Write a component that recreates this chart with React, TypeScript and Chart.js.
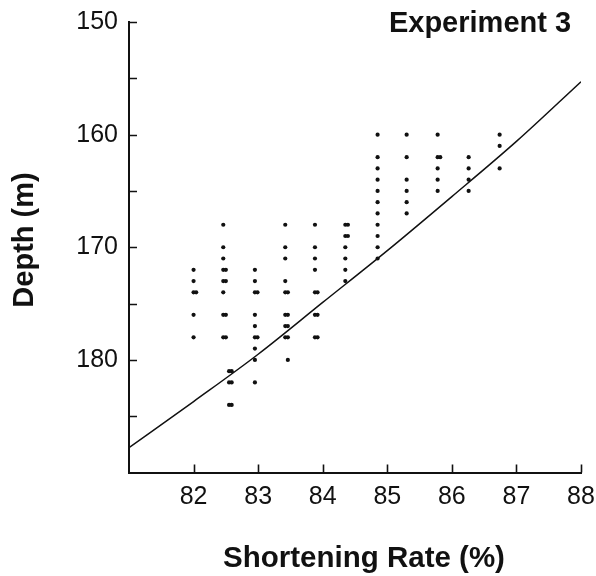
import React, { useEffect, useRef } from 'react';
import { Chart, registerables } from 'chart.js';

Chart.register(...registerables);

const FONT = '"Liberation Sans", Arial, Helvetica, sans-serif';

const chartTitle = 'Experiment 3';
const xAxisTitle = 'Shortening Rate (%)';
const yAxisTitle = 'Depth (m)';

// x positions of the point columns (shortening rate, %)
const columnRates = [82.0, 82.46, 82.55, 82.95, 83.42, 83.46, 83.88, 84.35, 84.85, 85.3, 85.78, 86.26, 86.74];
// depths (m) of the points in each column
const columnDepths = [
  [172, 173, 174, 176, 178],
  [168, 170, 171, 172, 173, 174, 176, 178],
  [181, 182, 184],
  [172, 173, 174, 176, 177, 178, 179, 180, 182],
  [168, 170, 171, 173, 174, 176, 177, 178],
  [180],
  [168, 170, 171, 172, 174, 176, 178],
  [168, 169, 170, 171, 172, 173],
  [160, 162, 163, 164, 165, 166, 167, 168, 169, 170, 171],
  [160, 162, 164, 165, 166, 167],
  [160, 162, 163, 164, 165],
  [162, 163, 164, 165],
  [160, 161, 163],
];
// overlapping (doubled) points, drawn just beside the first one
const doubledDepths = [
  [174],
  [172, 173, 176, 178],
  [181, 182, 184],
  [174, 178],
  [174, 176, 177, 178],
  [],
  [174, 176, 178],
  [168, 169],
  [],
  [],
  [162],
  [],
  [],
];
const doubledOffset = 0.04;

// fitted curve
const fitRates = [81, 82, 83, 84, 85, 86, 87, 88];
const fitDepths = [187.8, 183.7, 179.5, 174.9, 170.3, 165.5, 160.6, 155.3];

const xTickValues = [82, 83, 84, 85, 86, 87, 88];
const yTickValues = [150, 155, 160, 165, 170, 175, 180, 185];
const yTickLabels = [150, 160, 170, 180];

export default function App() {
  const ref = useRef<HTMLCanvasElement>(null);

  useEffect(() => {
    if (!ref.current) return;
    const points: { x: number; y: number }[] = [];
    columnRates.forEach((x, i) => {
      columnDepths[i].forEach((d) => points.push({ x, y: d }));
      doubledDepths[i].forEach((d) => points.push({ x: x + doubledOffset, y: d }));
    });
    const fit = fitRates.map((x, i) => ({ x, y: fitDepths[i] }));

    const decorations = {
      id: 'decorations',
      afterDraw(chart: any) {
        const { ctx, chartArea, scales } = chart;
        const xs = scales.x;
        const ys = scales.y;
        ctx.save();
        ctx.strokeStyle = '#111';
        ctx.lineWidth = 1.6;
        ctx.beginPath();
        yTickValues.forEach((v) => {
          const py = Math.round(ys.getPixelForValue(v)) + 0.5;
          ctx.moveTo(chartArea.left, py);
          ctx.lineTo(chartArea.left + 8, py);
        });
        xTickValues.forEach((v) => {
          const px = Math.round(xs.getPixelForValue(v)) + 0.5;
          ctx.moveTo(px, chartArea.bottom);
          ctx.lineTo(px, chartArea.bottom - 8);
        });
        ctx.stroke();
        ctx.fillStyle = '#111';
        ctx.textAlign = 'center';
        ctx.textBaseline = 'alphabetic';
        ctx.font = `bold 29px ${FONT}`;
        ctx.fillText(chartTitle, 480, 32);
        ctx.font = `bold 29.5px ${FONT}`;
        ctx.fillText(xAxisTitle, 364, 567);
        ctx.translate(32.5, 240);
        ctx.rotate(-Math.PI / 2);
        ctx.font = `bold 29px ${FONT}`;
        ctx.fillText(yAxisTitle, 0, 0);
        ctx.restore();
      },
    };

    const chart = new Chart(ref.current, {
      type: 'scatter',
      data: {
        datasets: [
          {
            label: 'Measurements',
            data: points,
            pointRadius: 2.1,
            pointHoverRadius: 2.1,
            backgroundColor: '#111',
            borderWidth: 0,
            order: 1,
          },
          {
            label: 'Fit',
            data: fit,
            showLine: true,
            borderColor: '#111',
            borderWidth: 1.5,
            pointRadius: 0,
            cubicInterpolationMode: 'monotone',
            order: 0,
          } as any,
        ],
      },
      options: {
        responsive: false,
        animation: false,
        layout: { padding: { top: 22, right: 15, left: 0, bottom: 0 } },
        plugins: {
          legend: { display: false },
          tooltip: { enabled: false },
          title: { display: false },
        },
        scales: {
          x: {
            type: 'linear',
            min: 81,
            max: 88,
            afterFit: (s: any) => {
              s.height = 103.5;
              s.paddingLeft = 0;
              s.paddingRight = 0;
            },
            ticks: {
              stepSize: 1,
              autoSkip: false,
              maxRotation: 0,
              color: '#111',
              font: { family: FONT, size: 25 },
              padding: 10,
              callback: (v: any) => (xTickValues.includes(Number(v)) ? String(v) : ''),
            },
            grid: { display: false, drawTicks: false },
            border: { display: true, color: '#111', width: 2 },
            title: { display: false },
          },
          y: {
            type: 'linear',
            min: 150,
            max: 190,
            reverse: true,
            afterFit: (s: any) => {
              s.width = 129;
              s.paddingTop = 0;
              s.paddingBottom = 0;
            },
            ticks: {
              stepSize: 10,
              autoSkip: false,
              color: '#111',
              font: { family: FONT, size: 25 },
              padding: 11,
              callback: (v: any) => (yTickLabels.includes(Number(v)) ? String(v) : ''),
            },
            grid: { display: false, drawTicks: false },
            border: { display: true, color: '#111', width: 2 },
            title: { display: false },
          },
        },
      },
      plugins: [decorations],
    });
    return () => chart.destroy();
  }, []);

  return (
    <div style={{ position: 'absolute', left: 0, top: 0, width: 596, height: 576, background: '#fff' }}>
      <canvas ref={ref} width={596} height={576} />
    </div>
  );
}
